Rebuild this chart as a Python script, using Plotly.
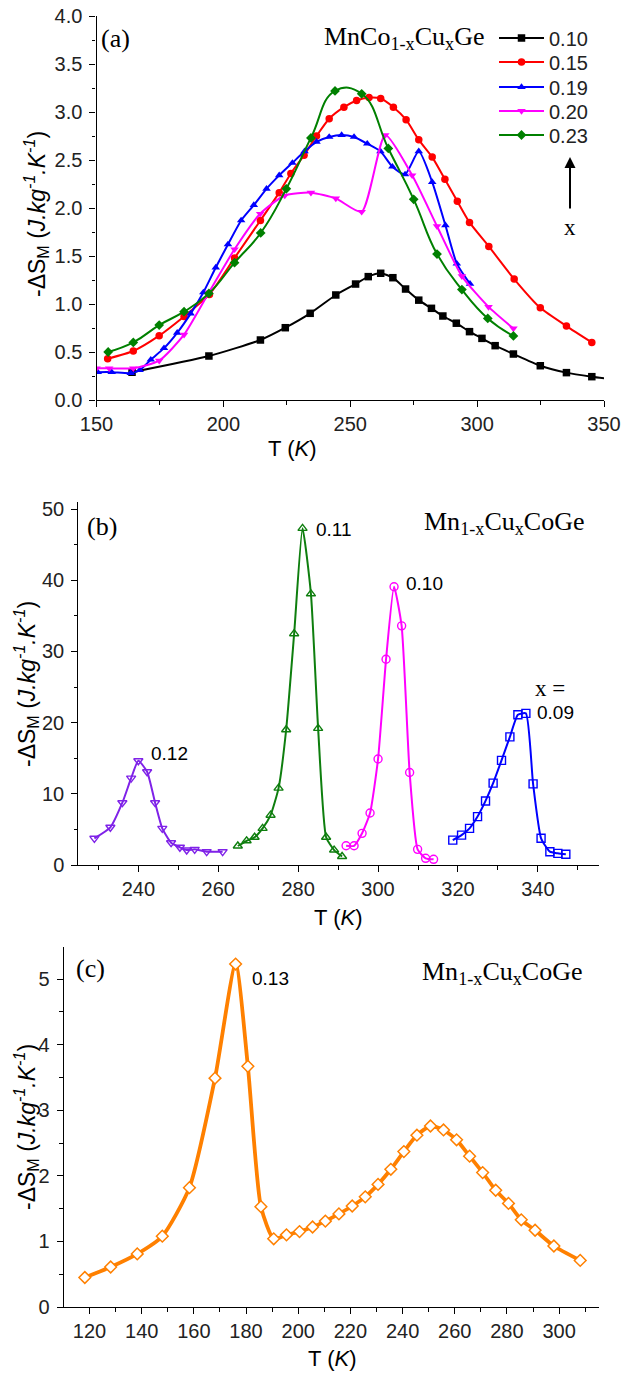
import plotly.graph_objects as go

W, H = 622, 1376

# ---------------- Panel (a): MnCo1-xCuxGe ----------------
series_a_names = ["0.10", "0.15", "0.19", "0.20", "0.23"]
T_010 = [164, 194.3, 214.6, 224.4, 234.2, 244.3, 252.1, 257.1, 262.0, 266.8, 271.8, 277.0,
         282.0, 286.5, 291.8, 297.0, 301.9, 307.1, 314.3, 324.9, 335.2, 345.2, 355]
S_010 = [0.29, 0.458, 0.625, 0.753, 0.903, 1.094, 1.208, 1.285, 1.32, 1.274, 1.156, 1.04,
         0.955, 0.875, 0.80, 0.712, 0.642, 0.566, 0.479, 0.357, 0.285, 0.243, 0.21]
T_015 = [154.4, 164.5, 174.7, 184.5, 194.5, 204.4, 214.6, 222.0, 226.6, 231.8, 236.7, 241.7,
         247.5, 252.5, 257.4, 262.0, 267.0, 272.0, 277.0, 282.3, 287.3, 292.2, 297.0, 304.6,
         314.6, 324.9, 335.2, 345.2]
S_015 = [0.43, 0.51, 0.67, 0.87, 1.10, 1.48, 1.87, 2.16, 2.36, 2.55, 2.75, 2.93,
         3.05, 3.12, 3.15, 3.14, 3.05, 2.92, 2.71, 2.53, 2.30, 2.07, 1.85, 1.60,
         1.26, 0.96, 0.77, 0.60]
T_019 = [150.5, 156, 163.5, 167, 171.4, 176.6, 181.8, 187.1, 192.1, 197.0, 201.8, 207.0,
         212.0, 217.0, 222.0, 227.2, 232.0, 236.7, 241.7, 246.6, 251.5, 256.7, 261.9, 266.6,
         271.6, 277.0, 282.3, 287.5, 292.0, 297.2]
S_019 = [0.29, 0.29, 0.28, 0.31, 0.42, 0.54, 0.70, 0.90, 1.12, 1.38, 1.62, 1.87,
         2.03, 2.20, 2.34, 2.47, 2.59, 2.69, 2.74, 2.76, 2.74, 2.67, 2.59, 2.43,
         2.35, 2.59, 2.27, 1.82, 1.42, 1.21]
T_020 = [150, 155, 164.5, 174.7, 184.5, 194.3, 204.4, 214.5, 224.2, 234.5, 244.3, 254.5,
         263.8, 274.4, 284.2, 294.0, 304.5, 314.3]
S_020 = [0.33, 0.33, 0.33, 0.41, 0.68, 1.12, 1.57, 1.94, 2.13, 2.16, 2.10, 1.96,
         2.76, 2.34, 1.81, 1.29, 0.97, 0.745]
T_023 = [154.6, 164.5, 174.7, 184.5, 194.3, 204.4, 214.7, 224.8, 234.5, 244.0, 254.5, 265.0,
         275.0, 284.2, 294.0, 304.2, 314.3]
S_023 = [0.50, 0.60, 0.78, 0.92, 1.11, 1.43, 1.74, 2.20, 2.73, 3.22, 3.19, 2.62,
         2.09, 1.52, 1.15, 0.85, 0.667]

# ---------------- Panel (b): Mn1-xCuxCoGe ----------------
T_b012 = [229.0, 233.0, 236.0, 238.2, 240.0, 242.2, 244.2, 246.0, 248.2, 250.4, 252.1, 254.1, 257.1, 261.1]
S_b012 = [3.75, 5.3, 8.75, 12.2, 14.65, 13.1, 8.75, 5.15, 3.13, 2.49, 2.1, 2.2, 1.87, 1.87]
T_b011 = [264.9, 267.1, 269.1, 271.1, 273.1, 275.1, 277.0, 279.0, 281.1, 283.2, 285.0, 287.0, 289.0, 291.0]
S_b011 = [2.67, 3.4, 3.9, 5.15, 7.0, 10.8, 19.0, 32.5, 47.3, 38.1, 19.2, 3.9, 2.1, 1.2]
T_b010 = [292.0, 294.0, 296.0, 298.0, 300.0, 302.0, 304.0, 305.9, 307.9, 309.9, 311.9, 313.9]
S_b010 = [2.7, 2.7, 4.45, 7.3, 14.9, 28.9, 39.1, 33.6, 13.0, 2.2, 0.94, 0.8]
T_b009 = [318.7, 320.9, 322.9, 324.9, 326.9, 328.8, 330.9, 333.0, 335.0, 337.0, 338.8, 340.8, 343.0, 345.0, 347.0]
S_b009 = [3.5, 4.2, 5.15, 6.8, 9.0, 11.5, 14.7, 18.0, 21.1, 21.3, 11.4, 3.75, 1.87, 1.64, 1.5]

# ---------------- Panel (c): Mn1-xCuxCoGe, x = 0.13 ----------------
T_c013 = [118.2, 128.1, 138.3, 147.9, 158.3, 168.1, 176.0, 180.7, 185.7, 190.6, 195.5, 200.5,
          205.5, 210.4, 215.6, 220.7, 225.7, 230.6, 235.5, 240.5, 245.5, 250.7, 255.7, 260.7,
          265.7, 270.7, 275.7, 280.6, 285.5, 290.8, 298.0, 308.1]
S_c013 = [0.45, 0.61, 0.81, 1.08, 1.82, 3.49, 5.23, 3.67, 1.53, 1.04, 1.10, 1.15,
          1.22, 1.31, 1.42, 1.54, 1.68, 1.87, 2.10, 2.37, 2.62, 2.76, 2.70, 2.55,
          2.30, 2.05, 1.78, 1.58, 1.33, 1.17, 0.93, 0.71]


def PX(px):
    return px / W


def PY(py):
    return 1 - py / H


SANS = "Liberation Sans"
SERIF = "Liberation Serif"
TICKFONT = dict(family=SANS, size=20, color="#222")
LW = 1.3

fig = go.Figure()

# panel (a) traces, each with its own legend box so the row spacing can match
a_colors = ["#000000", "#FF0000", "#0000FF", "#FF00FF", "#008000"]
a_symbols = ["square", "circle", "triangle-up", "triangle-down", "diamond"]
a_smooth = [0.6, 0.6, 0.6, 0.6, 1.3]
a_T = [T_010, T_015, T_019, T_020, T_023]
a_S = [S_010, S_015, S_019, S_020, S_023]
legend_ids = ["legend", "legend2", "legend3", "legend4", "legend5"]
legend_rows = [38, 62, 87, 111, 135]
for name, c, sym, sm, tt, ss, lg in zip(series_a_names, a_colors, a_symbols, a_smooth, a_T, a_S, legend_ids):
    fig.add_trace(go.Scatter(
        x=tt, y=ss, name=name, mode="lines+markers",
        line=dict(color=c, width=2, shape="spline", smoothing=sm),
        marker=dict(symbol=sym, size=7.5, color=c),
        xaxis="x", yaxis="y", showlegend=True, legend=lg))

# panel (b) traces
b_sets = [
    (T_b012, S_b012, "#7F22E8", "triangle-down-open"),
    (T_b011, S_b011, "#0E7E0E", "triangle-up-open"),
    (T_b010, S_b010, "#FF00FF", "circle-open"),
    (T_b009, S_b009, "#0000FF", "square-open"),
]
for tt, ss, c, sym in b_sets:
    fig.add_trace(go.Scatter(
        x=tt, y=ss, mode="lines+markers",
        line=dict(color=c, width=2, shape="spline", smoothing=0.5),
        marker=dict(symbol=sym, size=8, color=c, line=dict(width=1.4, color=c)),
        xaxis="x3", yaxis="y3", showlegend=False))

# panel (c) trace
fig.add_trace(go.Scatter(
    x=T_c013, y=S_c013, mode="lines+markers",
    line=dict(color="#FF8000", width=3.8, shape="spline", smoothing=0.6),
    marker=dict(symbol="diamond", size=9, color="white", line=dict(width=1.5, color="#FF8000")),
    xaxis="x5", yaxis="y5", showlegend=False))


def main_axis(rng, dtick, mdtick, domain, anchor, fmt=None, standoff=0):
    d = dict(range=rng, domain=domain, anchor=anchor, showline=True, linecolor="black",
             linewidth=LW, ticks="outside", ticklen=6, tickwidth=LW, tickcolor="black",
             tick0=0, dtick=dtick,
             minor=dict(ticks="outside", ticklen=3.5, tickwidth=1.1, tickcolor="black",
                        tick0=0, dtick=mdtick),
             showgrid=False, zeroline=False, tickfont=TICKFONT, ticklabelstandoff=standoff,
             ticklabeloverflow="allow", automargin=False)
    if fmt:
        d["tickformat"] = fmt
    return d


def over_axis(rng, dtick, mdtick, overlaying, anchor, side):
    return dict(range=rng, overlaying=overlaying, anchor=anchor, side=side, showline=True,
                linecolor="black", linewidth=LW, ticks="inside", ticklen=6, tickwidth=LW,
                tickcolor="black", tick0=0, dtick=dtick,
                minor=dict(ticks="inside", ticklen=3.5, tickwidth=1.1, tickcolor="black",
                           tick0=0, dtick=mdtick),
                showticklabels=False, showgrid=False, zeroline=False, automargin=False)


# domains from pixel boxes
dom_a_x = [PX(96.5), PX(604)]
dom_a_y = [PY(400), PY(16)]
dom_b_x = [PX(78.4), PX(599)]
dom_b_y = [PY(865), PY(502)]
dom_c_x = [PX(63.7), PX(599)]
dom_c_y = [PY(1307), PY(947)]

ra_x, ra_y = [150, 350], [0, 4.0]
rb_x, rb_y = [225, 355.3], [0, 51]
rc_x, rc_y = [110.1, 315.3], [0, 5.49]

fig.update_layout(
    xaxis=main_axis(ra_x, 50, 25, dom_a_x, "y"),
    yaxis=main_axis(ra_y, 0.5, 0.25, dom_a_y, "x", ".1f", 3),
    xaxis2=over_axis(ra_x, 50, 25, "x", "y", "top"),
    yaxis2=over_axis(ra_y, 0.5, 0.25, "y", "x", "right"),
    xaxis3=main_axis(rb_x, 20, 10, dom_b_x, "y3"),
    yaxis3=main_axis(rb_y, 10, 5, dom_b_y, "x3", None, 3),
    xaxis4=over_axis(rb_x, 20, 10, "x3", "y3", "top"),
    yaxis4=over_axis(rb_y, 10, 5, "y3", "x3", "right"),
    xaxis5=main_axis(rc_x, 20, 10, dom_c_x, "y5"),
    yaxis5=main_axis(rc_y, 1, 0.5, dom_c_y, "x5", None, 3),
    xaxis6=over_axis(rc_x, 20, 10, "x5", "y5", "top"),
    yaxis6=over_axis(rc_y, 1, 0.5, "y5", "x5", "right"),
)

ytitle = "-ΔS<sub>M</sub> (<i>J.kg<sup>-1</sup>.K<sup>-1</sup></i>)"
xtitle = "T (<i>K</i>)"

ann = []


def text(px, py, s, size, family=SANS, xanchor="center", yanchor="middle", angle=0):
    ann.append(dict(x=PX(px), y=PY(py), xref="paper", yref="paper", text=s, showarrow=False,
                    font=dict(family=family, size=size, color="black"),
                    xanchor=xanchor, yanchor=yanchor, textangle=angle))


# axis titles
text(36, 214, ytitle, 23, angle=-90)
text(26, 684, ytitle, 23, angle=-90)
text(26, 1127, ytitle, 23, angle=-90)
text(292, 448, xtitle, 22)
text(338, 917, xtitle, 22)
text(332, 1358, xtitle, 22)

# panel labels
text(115, 39, "(a)", 26, SERIF)
text(102, 526, "(b)", 26, SERIF)
text(90, 968, "(c)", 26, SERIF)
text(322, 38, "MnCo<sub>1-x</sub>Cu<sub>x</sub>Ge", 26, SERIF, xanchor="left")
text(586, 523, "Mn<sub>1-x</sub>Cu<sub>x</sub>CoGe", 26, SERIF, xanchor="right")
text(584, 973, "Mn<sub>1-x</sub>Cu<sub>x</sub>CoGe", 26, SERIF, xanchor="right")

# curve labels
text(149, 753, "0.12", 19, xanchor="left")
text(314, 529, "0.11", 19, xanchor="left")
text(404, 583, "0.10", 19, xanchor="left")
text(533, 689, "x =", 23, SERIF, xanchor="left")
text(535, 712, "0.09", 19, xanchor="left")
text(250, 978, "0.13", 19, xanchor="left")

# x arrow in panel (a)
text(570, 227, "x", 23, SERIF)
ann.append(dict(x=PX(570), y=PY(157), xref="paper", yref="paper", ax=0, ay=53,
                axref="pixel", ayref="pixel", showarrow=True, arrowhead=2, arrowsize=1.1,
                arrowwidth=2, arrowcolor="black", text=""))

legend_style = dict(xanchor="left", yanchor="middle", bgcolor="rgba(0,0,0,0)",
                    font=dict(family=SANS, size=20, color="#222"), itemwidth=45,
                    borderwidth=0)
legends = {}
for lg, row in zip(legend_ids, legend_rows):
    legends[lg] = dict(x=PX(494), y=PY(row), **legend_style)

fig.update_layout(
    annotations=ann,
    width=W, height=H,
    margin=dict(l=0, r=0, t=0, b=0, pad=0, autoexpand=False),
    paper_bgcolor="white", plot_bgcolor="white",
    **legends,
)

fig.write_html(
    "out.html", config={"displayModeBar": False},
    post_script=("document.body.style.margin='0px';"
                 "document.body.style.overflow='hidden';"
                 "document.documentElement.style.overflow='hidden';"))
